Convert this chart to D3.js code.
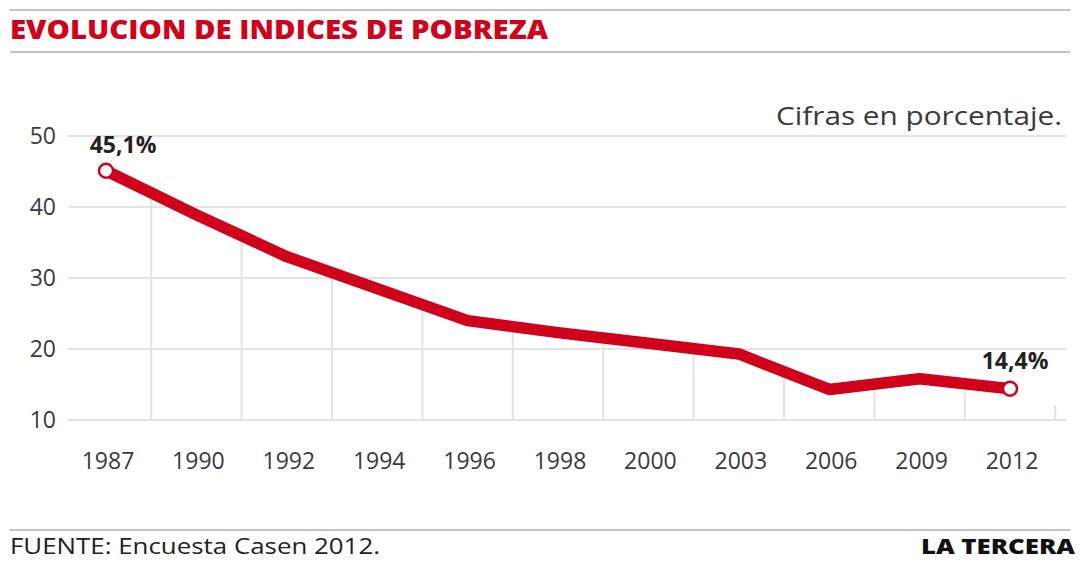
<!DOCTYPE html>
<html>
<head>
<meta charset="utf-8">
<script src="https://cdn.jsdelivr.net/npm/d3@7"></script>
<style>
  html, body { margin: 0; padding: 0; background: #fff; }
  svg { display: block; }
</style>
</head>
<body>
<svg id="chart" width="1080" height="561"></svg>
<script>
// ---- data ----
const years = ["1987","1990","1992","1994","1996","1998","2000","2003","2006","2009","2012"];
const poverty = [45.1, 38.9, 33.0, 28.5, 24.0, 22.3, 20.8, 19.3, 14.3, 15.8, 14.4];
const yTicks = [10, 20, 30, 40, 50];
const labelFirst = "45,1%";
const labelLast = "14,4%";
const title = "EVOLUCION DE INDICES DE POBREZA";
const subtitle = "Cifras en porcentaje.";
const source = "FUENTE: Encuesta Casen 2012.";
const brand = "LA TERCERA";

const red = "#d0021b";
const grid = "#e3e3e3";
const textCol = "#3a3a3a";

const svg = d3.select("#chart");

// rules
const rules = [10, 52, 530];
svg.selectAll("line.rule").data(rules).enter().append("line")
  .attr("x1", 10).attr("x2", 1070)
  .attr("y1", d => d).attr("y2", d => d)
  .attr("stroke", "#c4c4c4").attr("stroke-width", 2);

svg.append("text").text(title)
  .attr("x", 10).attr("y", 39)
  .attr("font-family", "'Open Sans', sans-serif").attr("font-weight", 800)
  .attr("font-size", 26).attr("fill", red)
  .attr("textLength", 538).attr("lengthAdjust", "spacingAndGlyphs");

// scales
const x = d3.scalePoint().domain(years).range([106, 1010]);
const y = d3.scaleLinear().domain([10, 50]).range([420, 136]);
const step = x.step();

// horizontal grid
svg.selectAll("line.hgrid").data(yTicks).enter().append("line")
  .attr("x1", 68).attr("x2", 1066)
  .attr("y1", d => y(d)).attr("y2", d => y(d))
  .attr("stroke", grid).attr("stroke-width", 2);

// y labels
svg.selectAll("text.ylab").data(yTicks).enter().append("text")
  .text(d => d)
  .attr("x", 56).attr("y", d => y(d) + 8)
  .attr("text-anchor", "end")
  .attr("font-family", "'Open Sans', sans-serif")
  .attr("font-size", 23).attr("fill", textCol);

// vertical drop lines at midpoints, up to the data line
const interp = xv => {
  for (let i = 0; i < years.length - 1; i++) {
    const x0 = x(years[i]), x1 = x(years[i + 1]);
    if (xv >= x0 && xv <= x1) {
      const t = (xv - x0) / (x1 - x0);
      return y(poverty[i] + t * (poverty[i + 1] - poverty[i]));
    }
  }
  return y(10) - 15;
};
const mids = years.map(d => x(d) + step / 2);
svg.selectAll("line.vgrid").data(mids).enter().append("line")
  .attr("x1", d => d).attr("x2", d => d)
  .attr("y1", y(10)).attr("y2", d => interp(d))
  .attr("stroke", grid).attr("stroke-width", 2);

// x labels
svg.selectAll("text.xlab").data(years).enter().append("text")
  .text(d => d)
  .attr("x", d => x(d) + 2).attr("y", 469)
  .attr("text-anchor", "middle")
  .attr("font-family", "'Open Sans', sans-serif")
  .attr("font-size", 23).attr("fill", textCol);

// line
const line = d3.line().x((d, i) => x(years[i])).y(d => y(d));
svg.append("path").datum(poverty)
  .attr("d", line)
  .attr("fill", "none").attr("stroke", red)
  .attr("stroke-width", 11.5).attr("stroke-linejoin", "round");

// end markers
const ends = [0, years.length - 1];
svg.selectAll("circle.end").data(ends).enter().append("circle")
  .attr("cx", i => x(years[i])).attr("cy", i => y(poverty[i]))
  .attr("r", 7).attr("fill", "#fff").attr("stroke", red).attr("stroke-width", 2.5);

// value labels
svg.append("text").text(labelFirst)
  .attr("x", x(years[0]) + 17).attr("y", y(poverty[0]) - 18)
  .attr("text-anchor", "middle")
  .attr("font-family", "'Open Sans', sans-serif").attr("font-weight", 700)
  .attr("font-size", 23).attr("fill", "#222");
svg.append("text").text(labelLast)
  .attr("x", x(years[years.length - 1]) + 5).attr("y", y(poverty[poverty.length - 1]) - 20)
  .attr("text-anchor", "middle")
  .attr("font-family", "'Open Sans', sans-serif").attr("font-weight", 700)
  .attr("font-size", 23).attr("fill", "#222");

// subtitle
svg.append("text").text(subtitle)
  .attr("x", 1062).attr("y", 125)
  .attr("text-anchor", "end")
  .attr("font-family", "'Open Sans', sans-serif")
  .attr("font-size", 25).attr("fill", textCol)
  .attr("textLength", 286).attr("lengthAdjust", "spacingAndGlyphs");

// footer
svg.append("text").text(source)
  .attr("x", 10).attr("y", 554)
  .attr("font-family", "'Open Sans', sans-serif")
  .attr("font-size", 21).attr("fill", "#222")
  .attr("textLength", 370).attr("lengthAdjust", "spacingAndGlyphs");
svg.append("text").text(brand)
  .attr("x", 1075).attr("y", 554)
  .attr("text-anchor", "end")
  .attr("font-family", "'Open Sans', sans-serif").attr("font-weight", 800)
  .attr("font-size", 21).attr("fill", "#111")
  .attr("textLength", 154).attr("lengthAdjust", "spacingAndGlyphs");
</script>
</body>
</html>
